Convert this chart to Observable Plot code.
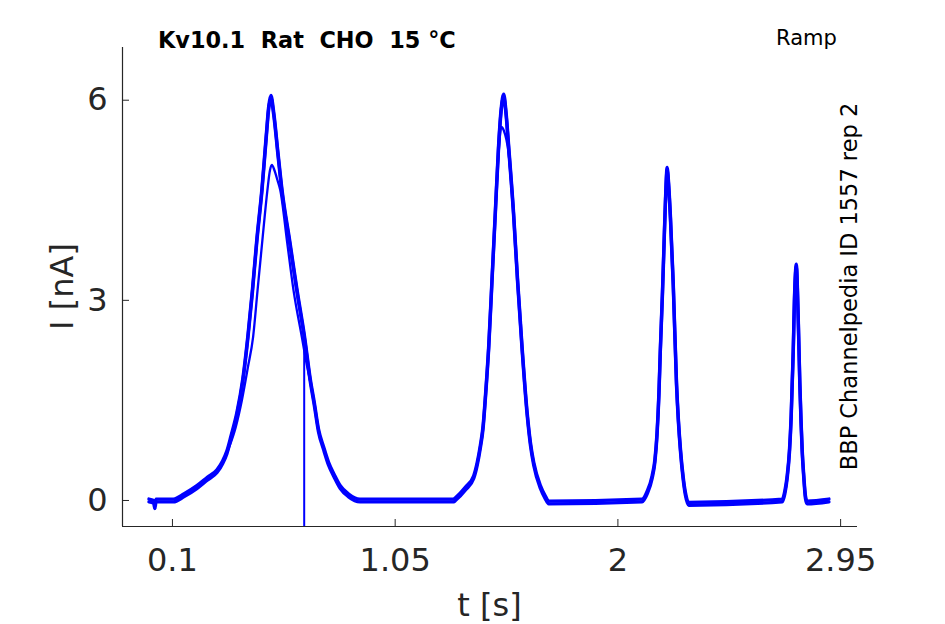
<!DOCTYPE html>
<html><head><meta charset="utf-8">
<script src="https://cdn.jsdelivr.net/npm/d3@7"></script>
<script src="https://cdn.jsdelivr.net/npm/@observablehq/plot@0.6"></script>
<style>body{margin:0;background:#fff;} #chart{width:945px;height:624px;}</style>
</head><body><div id="chart"></div>
<script>
// Trace A: full sweep (outer envelope), time [s] and current [nA]
const traceA_t = [0.0,0.02,0.025,0.03,0.1,0.104,0.15,0.204,0.25,0.29,0.315,0.332,0.35,0.375,0.40,0.4218,0.4414,0.46,0.4816,0.5,0.511,0.52,0.532,0.55,0.567,0.6,0.631,0.663,0.688,0.705,0.723,0.745,0.766,0.79,0.816,0.85,0.9,1.3,1.307,1.35,1.385,1.40,1.413,1.425,1.435,1.449,1.463,1.477,1.491,1.502,1.513,1.523,1.534,1.555,1.572,1.591,1.613,1.627,1.641,1.67,1.69,1.705,2.103,2.125,2.146,2.158,2.167,2.175,2.181,2.19,2.196,2.203,2.21,2.217,2.224,2.236,2.25,2.258,2.267,2.278,2.288,2.302,2.701,2.712,2.722,2.732,2.739,2.748,2.753,2.761,2.769,2.776,2.781,2.786,2.793,2.8,2.807,2.9];
const traceA_i = [0.0,-0.02,-0.1,0.0,0.0,0.0,0.08,0.2,0.33,0.44,0.58,0.72,0.95,1.3,1.8,2.45,3.15,3.9,4.65,5.45,5.9,6.05,5.8,5.2,4.65,3.88,3.15,2.45,1.8,1.45,1.05,0.78,0.55,0.37,0.2,0.08,0.0,0.0,0.02,0.18,0.35,0.55,0.8,1.1,1.55,2.3,3.3,4.3,5.3,5.85,6.07,5.8,5.3,4.3,3.3,2.3,1.3,0.85,0.55,0.2,0.05,-0.03,0.0,0.12,0.35,0.6,1.0,1.6,2.25,3.1,3.75,4.5,4.97,4.7,4.25,3.25,1.75,1.2,0.75,0.35,0.1,-0.05,0.0,0.12,0.35,0.75,1.25,2.25,3.0,3.52,2.75,1.75,1.2,0.75,0.35,0.05,-0.03,0.0];
// Trace B: lower sweep, first two ramps
const traceB1_t = [0.32,0.34,0.37,0.396,0.422,0.444,0.463,0.485,0.505,0.516,0.524,0.535,0.548,0.56,0.59,0.6165,0.652,0.675,0.69];
const traceB1_i = [0.6,0.78,1.1,1.5,2.0,2.45,3.15,3.95,4.65,4.95,5.03,4.95,4.8,4.65,3.85,3.15,2.45,2.0,1.75];
const traceB2_t = [1.477,1.491,1.503,1.513,1.534,1.555];
const traceB2_i = [4.3,5.2,5.6,5.55,5.2,4.3];
// Artifact spike
const spike_t = [0.662,0.662];
const spike_i = [2.4,-1.0];

const xTicks = [0.1, 1.05, 2, 2.95];
const yTicks = [0, 3, 6];
const xDomain = [-0.113, 3.022];
const yDomain = [-0.39, 6.79];

const titleText = "Kv10.1  Rat  CHO  15 °C";
const protocolText = "Ramp";
const sourceText = "BBP Channelpedia ID 1557 rep 2";
const xLabel = "t [s]";
const yLabel = "I [nA]";

const toRows = (t, i) => t.map((v, k) => ({t: v, i: i[k]}));
const A = toRows(traceA_t, traceA_i);
const B1 = toRows(traceB1_t, traceB1_i);
const B2 = toRows(traceB2_t, traceB2_i);
const S = toRows(spike_t, spike_i);

const W = 945, H = 624, mL = 122, mR = 88, mT = 47, mB = 98;
const axisColor = "#262626";
const blue = "#0000ff";

const plot = Plot.plot({
  width: W, height: H,
  marginLeft: mL, marginRight: mR, marginTop: mT, marginBottom: mB,
  style: {fontFamily: "DejaVu Sans", background: "white", overflow: "visible"},
  x: {domain: xDomain, label: null},
  y: {domain: yDomain, label: null},
  marks: [
    Plot.line(A, {x: "t", y: "i", stroke: blue, strokeWidth: 3.4, curve: "monotone-x", dy: -1.4, clip: true}),
    Plot.line(A, {x: "t", y: "i", stroke: blue, strokeWidth: 3.4, curve: "monotone-x", dy: 1.4, clip: true}),
    Plot.line(B1, {x: "t", y: "i", stroke: blue, strokeWidth: 2.3, curve: "monotone-x", clip: true}),
    Plot.line(B2, {x: "t", y: "i", stroke: blue, strokeWidth: 2.3, curve: "monotone-x", clip: true}),
    Plot.line(S, {x: "t", y: "i", stroke: blue, strokeWidth: 2, clip: true}),
    Plot.ruleX([xDomain[0]], {stroke: axisColor, strokeWidth: 1.2}),
    Plot.ruleY([yDomain[0]], {stroke: axisColor, strokeWidth: 1.2}),
    Plot.tickX(xTicks, {x: d => d, stroke: axisColor, insetTop: (H - mT - mB) - 7}),
    Plot.tickY(yTicks, {y: d => d, stroke: axisColor, insetRight: (W - mL - mR) - 7}),
    Plot.axisX(xTicks, {tickSize: 0, tickPadding: 22, fontSize: 32, color: axisColor, label: null, tickFormat: d => String(d)}),
    Plot.axisY(yTicks, {tickSize: 0, tickPadding: 15, fontSize: 32, color: axisColor, label: null, tickFormat: d => String(d)})
  ]
});
document.getElementById("chart").appendChild(plot);

const svg = d3.select(plot);
svg.append("text").attr("x", 158).attr("y", 48).attr("text-anchor", "start")
  .attr("font-family", "DejaVu Sans").attr("font-weight", "bold").attr("font-size", 22.4)
  .attr("fill", "#000").style("white-space", "pre").text(titleText);
svg.append("text").attr("x", 776).attr("y", 45).attr("text-anchor", "start")
  .attr("font-family", "DejaVu Sans").attr("font-size", 21).attr("fill", "#000").text(protocolText);
svg.append("text").attr("transform", "translate(857,286.5) rotate(-90)")
  .attr("text-anchor", "middle")
  .attr("font-family", "DejaVu Sans").attr("font-size", 22.5).attr("fill", "#000").text(sourceText);
svg.append("text").attr("transform", "translate(73,286.5) rotate(-90)")
  .attr("text-anchor", "middle")
  .attr("font-family", "DejaVu Sans").attr("font-size", 32).attr("fill", axisColor).text(yLabel);
svg.append("text").attr("x", 489.5).attr("y", 616)
  .attr("text-anchor", "middle")
  .attr("font-family", "DejaVu Sans").attr("font-size", 32).attr("fill", axisColor).text(xLabel);
</script></body></html>
